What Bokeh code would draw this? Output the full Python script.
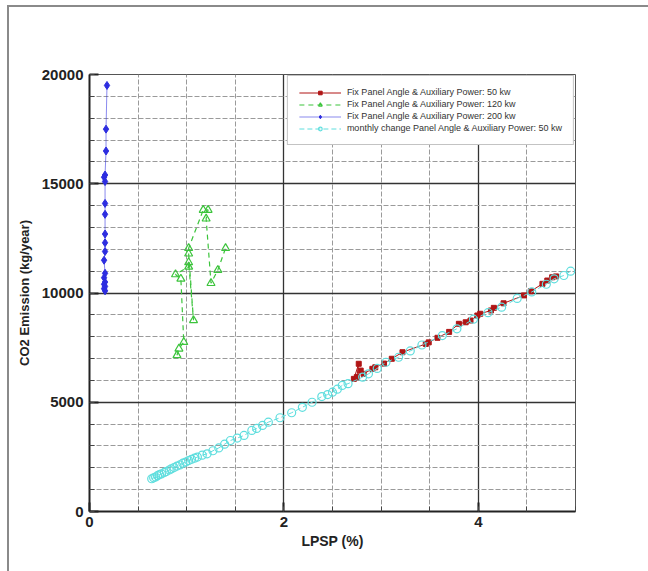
from bokeh.plotting import figure
from bokeh.models import SingleIntervalTicker, Range1d, Legend
from bokeh.embed import file_html
from bokeh.resources import INLINE

# ---- data ----
x_200 = [0.18, 0.17, 0.17, 0.16, 0.15, 0.16, 0.16, 0.16, 0.16, 0.16, 0.16, 0.15, 0.16, 0.15, 0.16, 0.15, 0.16, 0.15, 0.16]
y_200 = [19500, 17500, 16500, 15400, 15300, 15100, 14100, 13600, 12700, 12300, 11900, 11500, 10900, 10700, 10500, 10400, 10300, 10200, 10100]

x_120 = [0.90, 0.92, 0.97, 0.94, 0.885, 1.02, 1.02, 1.07, 1.02, 1.02, 1.17, 1.22, 1.20, 1.25, 1.32, 1.40]
y_120 = [7150, 7450, 7750, 10650, 10850, 11200, 11400, 8750, 11800, 12050, 13800, 13800, 13400, 10450, 11050, 12050]

x_50 = [2.72, 2.77, 2.75, 2.79, 2.82, 2.91, 2.94, 3.03, 3.11, 3.22, 3.46, 3.49, 3.58, 3.70, 3.80, 3.87, 3.92, 3.99, 4.02, 4.13, 4.16, 4.26, 4.47, 4.54, 4.66, 4.71, 4.76, 4.80]
y_50 = [6070, 6760, 6150, 6450, 6300, 6530, 6600, 6770, 6990, 7290, 7670, 7740, 7950, 8220, 8590, 8660, 8740, 8970, 9050, 9200, 9320, 9530, 9890, 10080, 10420, 10570, 10720, 10760]

x_month = [0.64, 0.66, 0.68, 0.70, 0.72, 0.74, 0.77, 0.79, 0.82, 0.84, 0.87, 0.90, 0.93, 0.96, 0.99,
           1.02, 1.05, 1.08, 1.11, 1.16, 1.21, 1.27, 1.33, 1.39, 1.45, 1.52, 1.59, 1.67, 1.72, 1.78,
           1.84, 1.96, 2.08, 2.19, 2.29, 2.39, 2.45, 2.50, 2.55, 2.60, 2.66, 2.81, 2.87, 2.96, 3.05,
           3.18, 3.30, 3.42, 3.63, 3.78, 3.95, 4.10, 4.24, 4.40, 4.55, 4.70, 4.78, 4.88, 4.95]
y_month = [1500, 1540, 1580, 1640, 1690, 1720, 1790, 1830, 1900, 1950, 2010, 2080, 2130, 2210, 2260,
           2330, 2390, 2440, 2490, 2580, 2640, 2780, 2910, 3080, 3250, 3360, 3480, 3710, 3800, 3940,
           4090, 4290, 4520, 4770, 5000, 5260, 5350, 5460, 5600, 5770, 5850, 6150, 6300, 6550, 6830,
           7060, 7350, 7620, 8050, 8360, 8800, 9100, 9350, 9750, 10050, 10400, 10650, 10800, 11000]

labels = ["Fix Panel Angle & Auxiliary Power: 50 kw",
          "Fix Panel Angle & Auxiliary Power: 120 kw",
          "Fix Panel Angle & Auxiliary Power: 200 kw",
          "monthly change Panel Angle & Auxiliary Power: 50 kw"]

FONT = "Liberation Sans"

p = figure(frame_width=486, frame_height=437,
           min_border_left=80, min_border_top=67, min_border_right=75, min_border_bottom=62,
           x_range=Range1d(0, 5), y_range=Range1d(0, 20000),
           output_backend="svg", toolbar_location=None,
           background_fill_color="white", border_fill_color="white")
p.margin = (5, 0, 0, 7)
p.styles = {"border-left": "2px solid #8a8a8a", "border-top": "2px solid #8a8a8a"}

p.xaxis.ticker = SingleIntervalTicker(interval=2, num_minor_ticks=4)
p.yaxis.ticker = SingleIntervalTicker(interval=5000, num_minor_ticks=5)

for ax in (p.xaxis[0], p.yaxis[0]):
    ax.axis_line_width = 2
    ax.axis_line_color = "#222222"
    ax.major_tick_in = 9
    ax.major_tick_out = 0
    ax.minor_tick_in = 5
    ax.minor_tick_out = 0
    ax.major_tick_line_width = 2
    ax.major_tick_line_color = "#222222"
    ax.minor_tick_line_color = "#444444"
    ax.major_label_text_font = FONT
    ax.major_label_text_font_style = "bold"
    ax.major_label_text_font_size = "15px"
    ax.major_label_text_color = "#222222"
    ax.axis_label_text_font = FONT
    ax.axis_label_text_font_style = "bold"
    ax.axis_label_text_color = "#222222"

p.xaxis.axis_label = "LPSP (%)"
p.xaxis.axis_label_text_font_size = "14px"
p.xaxis.major_label_standoff = 5
p.xaxis.axis_label_standoff = 3
p.yaxis.axis_label = "CO2 Emission (kg/year)"
p.yaxis.axis_label_text_font_size = "13px"
p.yaxis.major_label_standoff = 6
p.yaxis.axis_label_standoff = 7

for g in (p.xgrid[0], p.ygrid[0]):
    g.grid_line_color = "#333333"
    g.grid_line_width = 1.3
    g.minor_grid_line_color = "#9a9a9a"
    g.minor_grid_line_dash = "5 2"
    g.minor_grid_line_width = 1

p.outline_line_color = "#555555"
p.outline_line_width = 1

RED = "#b01515"
GREEN = "#3cc43c"
BLUE = "#2d2de0"
CYAN = "#5fdede"

r1l = p.line(x_50, y_50, line_color=RED, line_width=1)
r1m = p.scatter(x_50, y_50, marker="square", size=5, fill_color=RED, line_color=RED)
r2l = p.line(x_120, y_120, line_color=GREEN, line_width=1.2, line_dash="5 4")
r2m = p.scatter(x_120, y_120, marker="triangle", size=8, fill_color=None, line_color=GREEN, line_width=1.2)
r3l = p.line(x_200, y_200, line_color=BLUE, line_width=0.8, line_alpha=0.7)
r3m = p.scatter(x_200, y_200, marker="diamond", size=8, fill_color=BLUE, line_color=BLUE)
r4l = p.line(x_month, y_month, line_color=CYAN, line_width=1, line_dash="5 3")
r4m = p.scatter(x_month, y_month, marker="circle", size=8, fill_color=None, line_color=CYAN, line_width=1.2)

legend = Legend(items=[(labels[0], [r1l, r1m]), (labels[1], [r2l, r2m]),
                       (labels[2], [r3l, r3m]), (labels[3], [r4l, r4m])],
                location="top_right")
legend.label_text_font = FONT
legend.label_text_font_size = "9px"
legend.label_text_color = "#333333"
legend.glyph_width = 42
legend.glyph_height = 9
legend.label_height = 9
legend.label_standoff = 6
legend.spacing = 2
legend.padding = 11
legend.margin = 1
legend.border_line_color = "#888888"
legend.border_line_width = 1.5
legend.background_fill_color = "white"
legend.background_fill_alpha = 1
p.add_layout(legend)

open("out.html", "w").write(file_html(p, INLINE))
